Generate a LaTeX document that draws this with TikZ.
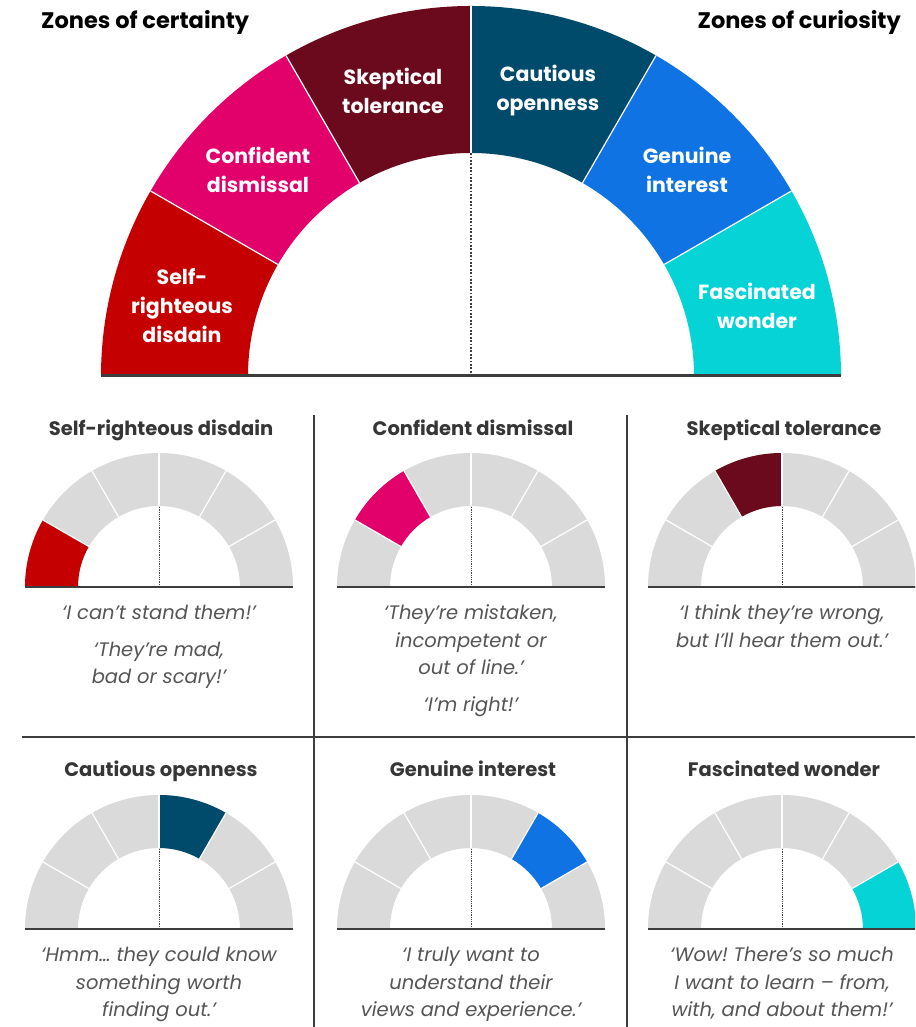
\documentclass[tikz,border=0pt]{standalone}
\usepackage{fontspec}
\setmainfont{Poppins}
\frenchspacing
\definecolor{cRed}{HTML}{C40000}
\definecolor{cPink}{HTML}{E2006A}
\definecolor{cMaroon}{HTML}{6A0A1C}
\definecolor{cNavy}{HTML}{004A6B}
\definecolor{cBlue}{HTML}{0F73E3}
\definecolor{cCyan}{HTML}{06D3D6}
\definecolor{cGray}{HTML}{DADADA}
\definecolor{lineGray}{HTML}{3D3D3D}
\definecolor{titleGray}{HTML}{363636}
\definecolor{quoteGray}{HTML}{555555}
\tikzset{
  sepline/.style={white, line width=1.2pt},
  dotbig/.style={lineGray, line width=1.8pt, dash pattern=on 1.8pt off 1.6pt},
  dotsmall/.style={lineGray, line width=0.9pt, dash pattern=on 0.9pt off 0.9pt},
  gaugebase/.style={lineGray},
  divider/.style={lineGray, line width=1.8pt},
  maintitle/.style={inner sep=0, font=\fontsize{22.5}{27}\selectfont\bfseries, text=black},
  seglabel/.style={inner sep=0, align=center, text=white, font=\fontsize{20.5}{29}\selectfont\bfseries},
  paneltitle/.style={inner sep=0, anchor=base, text=titleGray, font=\fontsize{19.5}{23}\selectfont\bfseries},
  quote/.style={inner sep=0, anchor=base, text=quoteGray, font=\fontsize{19.5}{23}\selectfont\itshape},
}
\newcommand\gaugeseg[4]{%
  \pgfmathsetmacro\gA{210-30*#3}%
  \pgfmathsetmacro\gB{180-30*#3}%
  \fill[#4] (\gA:#1pt) arc[start angle=\gA,end angle=\gB,radius=#1pt] -- (\gB:#2pt) arc[start angle=\gB,end angle=\gA,radius=#2pt] -- cycle;}
\newcommand\gaugeframe[4]{%
  \foreach \a in {150,120,90,60,30}{\draw[sepline] (\a:#2pt) -- (\a:#1pt);}
  \draw[#4] (0,0) -- (90:#2pt);
  \draw[gaugebase, line width=#3] (-#1pt,0) -- (#1pt,0);}
\newcommand\smallgauge[4]{%
  \begin{scope}[shift={(#1,#2)}]
    \foreach \i in {1,...,6}{\gaugeseg{134}{81}{\i}{cGray}}
    \gaugeseg{134}{81}{#3}{#4}
    \gaugeframe{134}{81}{2.2pt}{dotsmall}
  \end{scope}}
\begin{document}
\begin{tikzpicture}[x=1pt,y=1pt]
\path[use as bounding box, fill=white] (0,0) rectangle (915,1027);
\begin{scope}
\clip (0,0) rectangle (915,1027);
% big gauge
\begin{scope}[shift={(471,651)}]
  \gaugeseg{370}{223}{1}{cRed}
  \gaugeseg{370}{223}{2}{cPink}
  \gaugeseg{370}{223}{3}{cMaroon}
  \gaugeseg{370}{223}{4}{cNavy}
  \gaugeseg{370}{223}{5}{cBlue}
  \gaugeseg{370}{223}{6}{cCyan}
  \gaugeframe{370}{223}{3pt}{dotbig}
\end{scope}
\node[maintitle, anchor=base west] (tcert) at (41,998) {Zones of certainty};
\node[maintitle, anchor=base east] (tcur) at (901,998) {Zones of curiosity};
\node[seglabel] (l1) at (182,721) {Self-\\righteous\\disdain};
\node[seglabel] (l2) at (258,857) {Confident\\dismissal};
\node[seglabel] (l3) at (393,936) {Skeptical\\tolerance};
\node[seglabel] (l4) at (548,936) {Cautious\\openness};
\node[seglabel] (l5) at (687,857) {Genuine\\interest};
\node[seglabel] (l6) at (757,721) {Fascinated\\wonder};
% dividers
\draw[divider] (314,612) -- (314,0);
\draw[divider] (627,612) -- (627,0);
\draw[divider] (22,290) -- (915,290);
% small gauges
\smallgauge{159}{440}{1}{cRed}
\smallgauge{471}{440}{2}{cPink}
\smallgauge{782}{440}{3}{cMaroon}
\smallgauge{159}{98}{4}{cNavy}
\smallgauge{471}{98}{5}{cBlue}
\smallgauge{782}{98}{6}{cCyan}
\end{scope}
% panel titles
\node[paneltitle] (p1) at (161,591) {Self-righteous disdain};
\node[paneltitle] (p2) at (473,591) {Confident dismissal};
\node[paneltitle] (p3) at (784,591) {Skeptical tolerance};
\node[paneltitle] (p4) at (161,250) {Cautious openness};
\node[paneltitle] (p5) at (473,250) {Genuine interest};
\node[paneltitle] (p6) at (784,250) {Fascinated wonder};
% quotes
\node[quote] (q1a) at (159,407) {‘I can’t stand them!’};
\node[quote] (q1b) at (159,370) {‘They’re mad,};
\node[quote] (q1c) at (159,343) {bad or scary!’};
\node[quote] (q2a) at (471,407) {‘They’re mistaken,};
\node[quote] (q2b) at (471,379) {incompetent or};
\node[quote] (q2c) at (471,352) {out of line.’};
\node[quote] (q2d) at (471,315) {‘I’m right!’};
\node[quote] (q3a) at (782,407) {‘I think they’re wrong,};
\node[quote] (q3b) at (782,379) {but I’ll hear them out.’};
\node[quote] (q4a) at (159,65) {‘Hmm… they could know};
\node[quote] (q4b) at (159,37) {something worth};
\node[quote] (q4c) at (159,10) {finding out.’};
\node[quote] (q5a) at (471,65) {‘I truly want to};
\node[quote] (q5b) at (471,37) {understand their};
\node[quote] (q5c) at (471,10) {views and experience.’};
\node[quote] (q6a) at (782,65) {‘Wow! There’s so much};
\node[quote] (q6b) at (782,37) {I want to learn – from,};
\node[quote] (q6c) at (782,10) {with, and about them!’};
\end{tikzpicture}
\end{document}
